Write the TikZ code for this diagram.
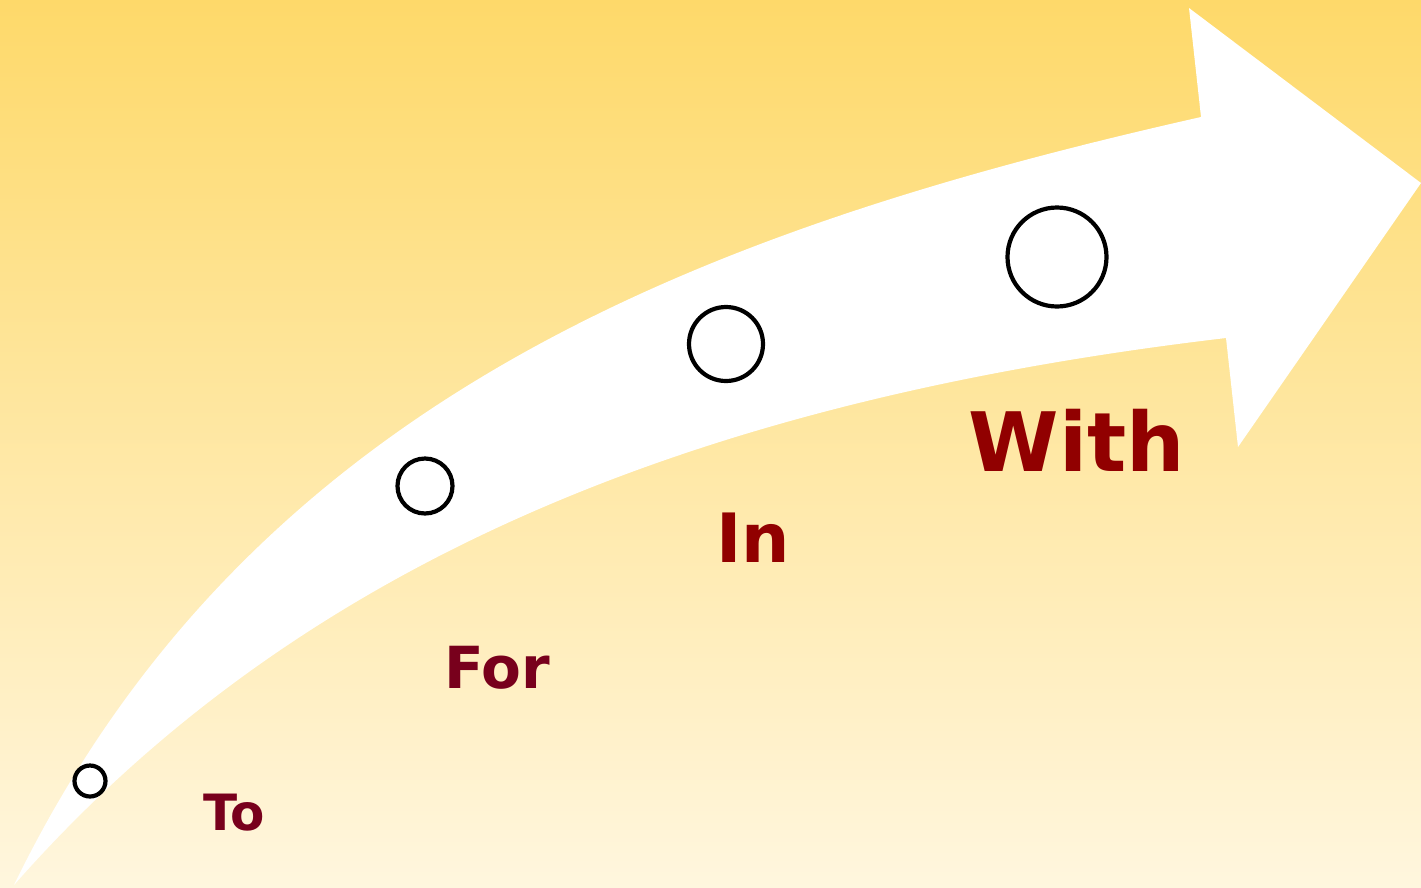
\documentclass[tikz,border=0pt]{standalone}
\usepackage{fontspec}
\setmainfont{DejaVu Sans}
\definecolor{bgtop}{RGB}{254,217,106}
\definecolor{bgbot}{RGB}{255,246,222}
\definecolor{txtA}{RGB}{120,0,28}
\definecolor{txtB}{RGB}{145,0,0}
\tikzset{
  dot/.style={circle, draw=black, line width=4.2pt, fill=white, inner sep=0pt},
  lbl/.style={font=\bfseries, inner sep=0pt, anchor=center}
}
\begin{document}
\begin{tikzpicture}[x=1pt,y=-1pt]
\useasboundingbox (0,0) rectangle (1421,887);
\shade[top color=bgtop, bottom color=bgbot] (0,0) rectangle (1421,887);
% big arrow
\fill[white] (14,885) .. controls (250,400) and (700,230) .. (1201,117)
  -- (1189,8) -- (1421,183) -- (1238,447) -- (1226,338)
  .. controls (700,400) and (300,560) .. (14,885) -- cycle;
\node[dot, minimum size=31pt] (c1) at (90,781) {};
\node[dot, minimum size=55pt] (c2) at (425,486) {};
\node[dot, minimum size=74pt] (c3) at (726,344) {};
\node[dot, minimum size=99pt] (c4) at (1057,257) {};
\node[lbl, text=txtA, font=\fontsize{50}{52}\selectfont\bfseries] (t1) at (234,813) {To};
\node[lbl, text=txtA, font=\fontsize{58}{60}\selectfont\bfseries] (t2) at (497,668) {For};
\node[lbl, text=txtB, font=\fontsize{68}{72}\selectfont\bfseries] (t3) at (753,538) {In};
\node[lbl, text=txtB, font=\fontsize{82}{86}\selectfont\bfseries] (t4) at (1077,440) {With};
\end{tikzpicture}
\end{document}
